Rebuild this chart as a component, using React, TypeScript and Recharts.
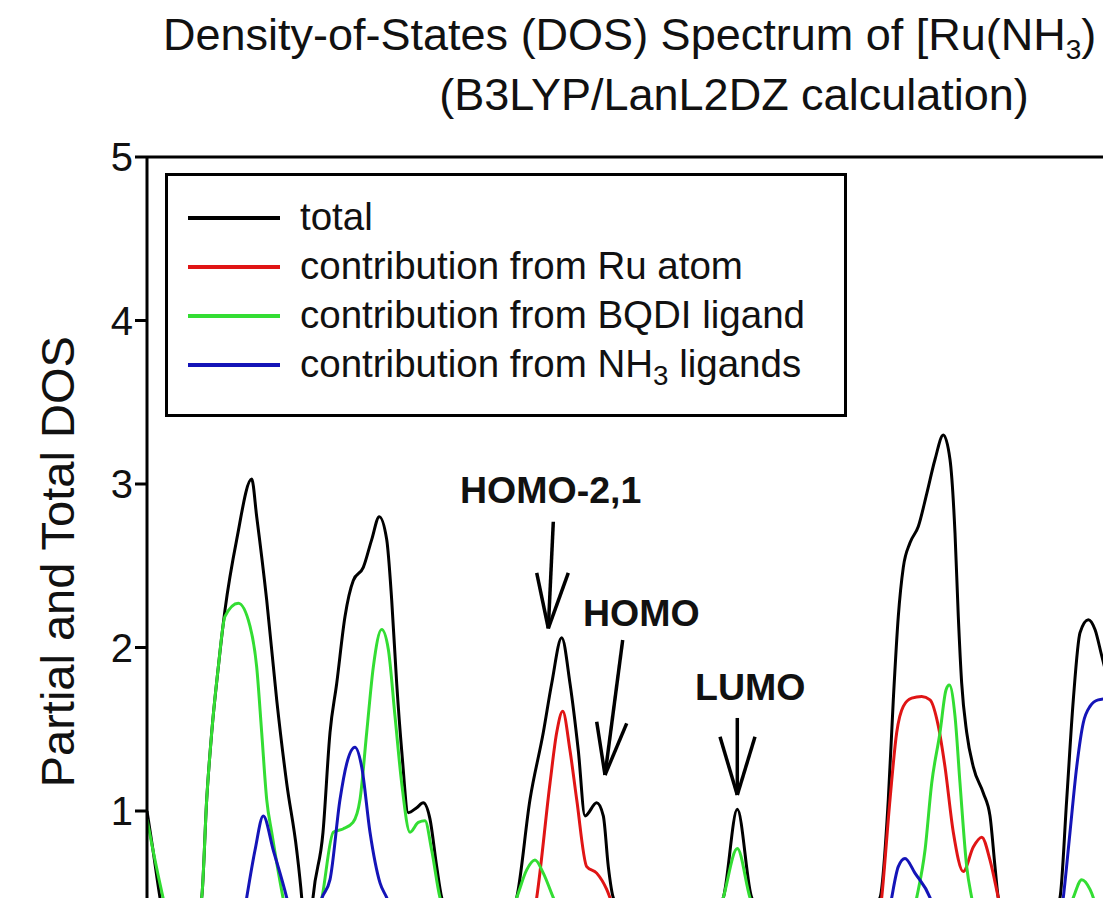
import { LineChart, Line, XAxis, YAxis, Legend, ReferenceLine, ReferenceDot } from 'recharts';

type Pt = [number, number];

const FONT = '"Liberation Sans", Arial, sans-serif';

// energy (eV) vs DOS
const total: Pt[] = [
  [-12.0, 1.0], [-11.94, 0.76], [-11.87, 0.47], [-11.66, 0], [-11.453, 0.47], [-11.403, 1.07],
  [-11.353, 1.48], [-11.287, 1.88], [-11.22, 2.23], [-11.103, 2.66], [-10.953, 3.03], [-10.903, 2.8],
  [-10.803, 2.29], [-10.703, 1.68], [-10.603, 1.17], [-10.503, 0.76], [-10.453, 0.47], [-10.4, 0],
  [-10.34, 0.47], [-10.24, 0.87], [-10.17, 1.48], [-10.103, 1.78], [-10.02, 2.19], [-9.937, 2.41],
  [-9.837, 2.49], [-9.753, 2.66], [-9.677, 2.8], [-9.603, 2.66], [-9.553, 2.29], [-9.503, 1.78],
  [-9.453, 1.37], [-9.387, 0.99], [-9.303, 1.02], [-9.237, 1.05], [-9.17, 0.95], [-9.103, 0.66],
  [-9.053, 0.47], [-8.67, 0], [-8.303, 0.47], [-8.17, 1.07], [-8.037, 1.48], [-7.953, 1.78],
  [-7.853, 2.06], [-7.77, 1.78], [-7.687, 1.37], [-7.62, 0.97], [-7.503, 1.05], [-7.437, 0.97],
  [-7.387, 0.66], [-7.337, 0.47], [-6.77, 0], [-6.237, 0.47], [-6.097, 1.01], [-5.953, 0.47],
  [-5.32, 0], [-4.67, 0.47], [-4.587, 1.07], [-4.537, 1.68], [-4.487, 2.19], [-4.437, 2.49],
  [-4.37, 2.64], [-4.287, 2.74], [-4.203, 2.94], [-4.12, 3.15], [-4.037, 3.3], [-3.97, 3.15],
  [-3.92, 2.7], [-3.887, 2.19], [-3.853, 1.78], [-3.803, 1.48], [-3.737, 1.27], [-3.637, 1.11],
  [-3.57, 0.97], [-3.52, 0.66], [-3.487, 0.47], [-3.17, 0], [-2.87, 0.47], [-2.803, 1.07],
  [-2.737, 1.68], [-2.67, 2.09], [-2.587, 2.17], [-2.52, 2.11], [-2.453, 1.95], [-2.37, 1.75],
];

const ruAtom: Pt[] = [
  [-12.0, 0], [-8.32, 0], [-8.103, 0.47], [-7.97, 1.17], [-7.903, 1.48], [-7.843, 1.61], [-7.77, 1.37],
  [-7.703, 1.07], [-7.603, 0.66], [-7.503, 0.62], [-7.403, 0.52], [-7.37, 0.47], [-7.07, 0],
  [-4.78, 0], [-4.653, 0.47], [-4.57, 1.07], [-4.503, 1.48], [-4.437, 1.64], [-4.353, 1.69],
  [-4.253, 1.7], [-4.17, 1.68], [-4.087, 1.52], [-4.02, 1.27], [-3.937, 0.87], [-3.837, 0.63],
  [-3.737, 0.78], [-3.653, 0.84], [-3.57, 0.7], [-3.487, 0.47], [-3.32, 0], [-2.37, 0],
];

const bqdi: Pt[] = [
  [-12.0, 0.95], [-11.94, 0.76], [-11.84, 0.47], [-11.65, 0], [-11.453, 0.47], [-11.403, 1.07],
  [-11.353, 1.48], [-11.287, 1.88], [-11.22, 2.19], [-11.087, 2.27], [-10.97, 2.13], [-10.903, 1.88],
  [-10.853, 1.48], [-10.803, 1.07], [-10.753, 0.87], [-10.64, 0.47], [-10.47, 0], [-10.25, 0.47],
  [-10.137, 0.87], [-10.04, 0.89], [-9.94, 0.93], [-9.87, 1.07], [-9.803, 1.48], [-9.737, 1.88],
  [-9.653, 2.11], [-9.587, 1.99], [-9.52, 1.58], [-9.453, 1.17], [-9.37, 0.87], [-9.287, 0.93],
  [-9.22, 0.94], [-9.153, 0.76], [-9.07, 0.47], [-8.67, 0], [-8.303, 0.47], [-8.203, 0.64],
  [-8.12, 0.7], [-8.037, 0.62], [-7.937, 0.47], [-7.47, 0], [-6.47, 0], [-6.237, 0.47],
  [-6.097, 0.77], [-5.97, 0.47], [-5.47, 0], [-4.57, 0], [-4.303, 0.47], [-4.22, 0.76],
  [-4.153, 1.17], [-4.07, 1.48], [-4.01, 1.74], [-3.977, 1.77], [-3.92, 1.58], [-3.87, 1.17],
  [-3.803, 0.66], [-3.753, 0.47], [-3.47, 0], [-2.97, 0], [-2.737, 0.47], [-2.653, 0.58],
  [-2.57, 0.52], [-2.537, 0.47], [-2.47, 0.3],
];

const nh3: Pt[] = [
  [-12.0, 0], [-11.12, 0], [-11.003, 0.47], [-10.92, 0.76], [-10.837, 0.97], [-10.737, 0.76],
  [-10.603, 0.47], [-10.44, 0], [-10.25, 0.47], [-10.17, 0.58], [-10.07, 1.07], [-10.003, 1.29],
  [-9.92, 1.39], [-9.853, 1.27], [-9.77, 0.87], [-9.67, 0.56], [-9.603, 0.47], [-9.37, 0],
  [-4.67, 0], [-4.553, 0.47], [-4.487, 0.66], [-4.42, 0.71], [-4.32, 0.62], [-4.17, 0.47],
  [-3.97, 0], [-2.97, 0], [-2.837, 0.47], [-2.77, 0.87], [-2.703, 1.27], [-2.637, 1.54],
  [-2.57, 1.64], [-2.487, 1.68], [-2.37, 1.69],
];

const seriesNames = [
  'total',
  'contribution from Ru atom',
  'contribution from BQDI ligand',
  'contribution from NH3 ligands',
];

const yTicks = [1, 2, 3, 4, 5];

// orbital labels: text start (eV) and baseline (DOS units)
const orbitalLabels = [
  { text: 'HOMO-2,1', e: -8.87, dos: 2.884 },
  { text: 'HOMO', e: -7.64, dos: 2.131 },
  { text: 'LUMO', e: -6.52, dos: 1.679 },
];

// arrows: tail, tip and the two barb ends
const arrows: { tail: Pt; tip: Pt; barbs: Pt[] }[] = [
  { tail: [-7.937, 2.769], tip: [-7.987, 2.117], barbs: [[-8.103, 2.456], [-7.787, 2.456]] },
  { tail: [-7.243, 2.046], tip: [-7.42, 1.22], barbs: [[-7.503, 1.546], [-7.203, 1.536]] },
  { tail: [-6.097, 1.569], tip: [-6.097, 1.098], barbs: [[-6.27, 1.454], [-5.92, 1.454]] },
];

const rows = (pts: Pt[]) => pts.map(([e, dos]) => ({ e, dos }));

function legendName(name: string) {
  if (!name.includes('NH3')) return name;
  const [a, b] = name.split('NH3');
  return (
    <>
      {a}NH<sub style={{ fontSize: '0.72em', lineHeight: 0, verticalAlign: '-0.3em' }}>3</sub>
      {b}
    </>
  );
}

function LegendBox({ payload }: any) {
  const items = [...(payload || [])].sort(
    (a: any, b: any) => seriesNames.indexOf(a.value) - seriesNames.indexOf(b.value),
  );
  return (
    <div
      style={{
        boxSizing: 'border-box',
        width: 682,
        height: 244,
        border: '3px solid #000',
        background: '#fff',
        paddingTop: 17,
        fontFamily: FONT,
      }}
    >
      {items.map((p: any) => (
        <div key={p.value} style={{ display: 'flex', alignItems: 'center', height: 49 }}>
          <div style={{ marginLeft: 20, width: 92, height: 4, background: p.color }} />
          <div style={{ marginLeft: 20, fontSize: 38.5, lineHeight: 1, color: '#111', whiteSpace: 'nowrap' }}>
            {legendName(p.value)}
          </div>
        </div>
      ))}
    </div>
  );
}

function YLabel({ viewBox }: any) {
  const cy = viewBox.y + viewBox.height / 2 - 4;
  const x = 74;
  return (
    <text
      x={x}
      y={cy}
      transform={`rotate(-90, ${x}, ${cy})`}
      textAnchor="middle"
      fontSize={47}
      fill="#111"
      fontFamily={FONT}
    >
      Partial and Total DOS
    </text>
  );
}

export default function App() {
  return (
    <div
      style={{
        position: 'fixed',
        left: 0,
        top: 0,
        width: 1103,
        height: 898,
        overflow: 'hidden',
        background: '#fff',
        fontFamily: FONT,
      }}
    >
      <LineChart width={1170} height={1000} margin={{ top: 157, right: 23, bottom: 25.5, left: 0 }}>
        <XAxis type="number" dataKey="e" domain={[-12, -2]} hide allowDataOverflow />
        <YAxis
          type="number"
          domain={[0, 5]}
          ticks={yTicks}
          width={147}
          axisLine={{ stroke: '#000', strokeWidth: 3 }}
          tickLine={{ stroke: '#000', strokeWidth: 3 }}
          tickSize={12}
          tick={{ fontSize: 40, fill: '#111', fontFamily: FONT }}
          label={{ content: YLabel }}
        />
        <ReferenceLine y={5} stroke="#000" strokeWidth={3} />
        <Legend
          layout="vertical"
          align="center"
          verticalAlign="middle"
          content={LegendBox}
          wrapperStyle={{ left: 165, top: 173, width: 682, height: 244 }}
        />
        <Line name={seriesNames[0]} data={rows(total)} dataKey="dos" type="monotone" stroke="#000" strokeWidth={3} dot={false} isAnimationActive={false} />
        <Line name={seriesNames[1]} data={rows(ruAtom)} dataKey="dos" type="monotone" stroke="#e01515" strokeWidth={3} dot={false} isAnimationActive={false} />
        <Line name={seriesNames[2]} data={rows(bqdi)} dataKey="dos" type="monotone" stroke="#33dd33" strokeWidth={3} dot={false} isAnimationActive={false} />
        <Line name={seriesNames[3]} data={rows(nh3)} dataKey="dos" type="monotone" stroke="#1414b8" strokeWidth={3} dot={false} isAnimationActive={false} />
        {arrows.map((a, i) => (
          <ReferenceLine
            key={`s${i}`}
            segment={[{ x: a.tail[0], y: a.tail[1] }, { x: a.tip[0], y: a.tip[1] }]}
            stroke="#000"
            strokeWidth={3.5}
            ifOverflow="visible"
          />
        ))}
        {arrows.flatMap((a, i) =>
          a.barbs.map((b, j) => (
            <ReferenceLine
              key={`b${i}${j}`}
              segment={[{ x: b[0], y: b[1] }, { x: a.tip[0], y: a.tip[1] }]}
              stroke="#000"
              strokeWidth={3.5}
              ifOverflow="visible"
            />
          )),
        )}
        {orbitalLabels.map((l) => (
          <ReferenceDot
            key={l.text}
            x={l.e}
            y={l.dos}
            r={1}
            fill="none"
            stroke="none"
            ifOverflow="visible"
            label={{
              content: ({ viewBox }: any) => (
                <text x={viewBox.x + 1} y={viewBox.y + 1} fontSize={37.5} fontWeight="bold" fill="#111" fontFamily={FONT}>
                  {l.text}
                </text>
              ),
            }}
          />
        ))}
      </LineChart>
      <svg width={1103} height={140} style={{ position: 'absolute', left: 0, top: 0 }}>
        <text x={163} y={50} fontSize={45} fill="#111" fontFamily={FONT}>
          Density-of-States (DOS) Spectrum of [Ru(NH
          <tspan fontSize={28} dy={9}>3</tspan>
          <tspan dy={-9}>)</tspan>
        </text>
        <text x={734} y={110} fontSize={45} fill="#111" textAnchor="middle" fontFamily={FONT}>
          (B3LYP/LanL2DZ calculation)
        </text>
      </svg>
    </div>
  );
}
